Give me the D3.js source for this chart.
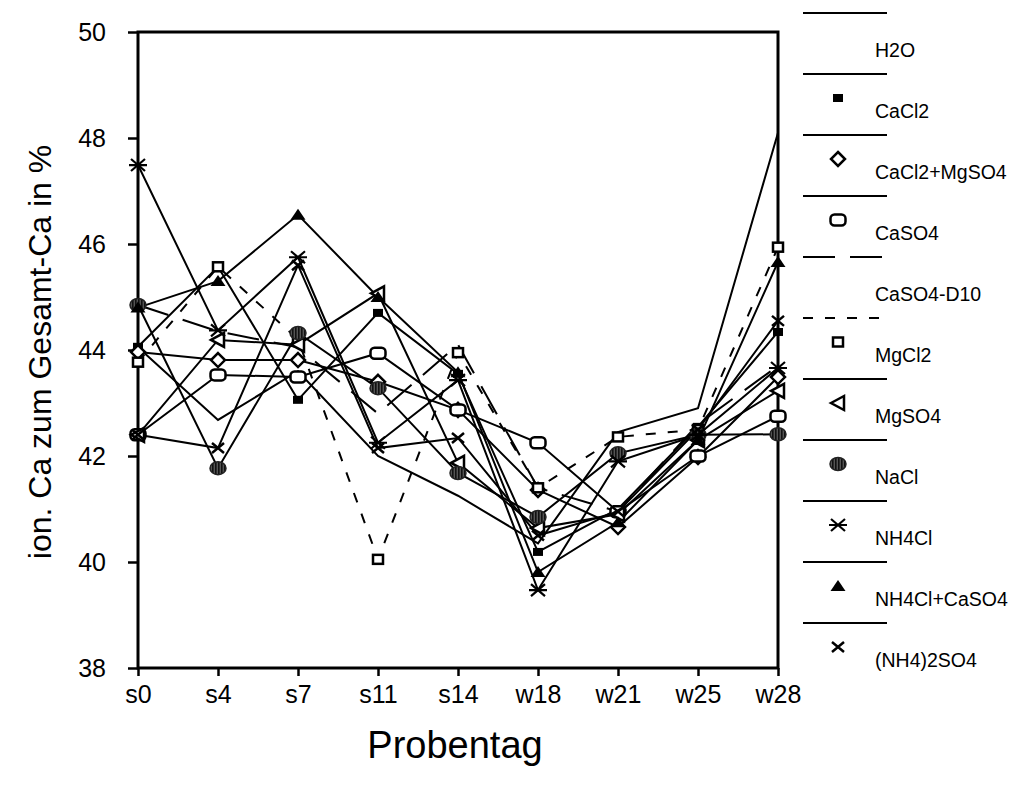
<!DOCTYPE html>
<html><head><meta charset="utf-8">
<script src="https://cdn.jsdelivr.net/npm/d3@7"></script>
<style>body{margin:0;background:#fff}svg{display:block}text{font-family:"Liberation Sans",Arial,sans-serif;fill:#000}</style>
</head><body><svg id="c" width="1011" height="789"></svg>
<script>
const categories = ["s0","s4","s7","s11","s14","w18","w21","w25","w28"];
const yTicks = [38,40,42,44,46,48,50];
const seriesNames = ["H2O","CaCl2","CaCl2+MgSO4","CaSO4","CaSO4-D10","MgCl2","MgSO4","NaCl","NH4Cl","NH4Cl+CaSO4","(NH4)2SO4"];
const H2O         = [44.05, 42.68, 43.60, 42.00, 41.25, 40.35, 42.45, 42.90, 48.10];
const CaCl2       = [44.06, 45.57, 43.06, 44.70, 43.55, 40.19, 41.00, 42.55, 44.34];
const CaCl2_MgSO4 = [43.96, 43.81, 43.81, 43.40, 42.87, 41.36, 40.66, 41.98, 43.49];
const CaSO4       = [42.40, 43.53, 43.49, 43.94, 42.87, 42.25, 40.95, 42.00, 42.75];
const CaSO4_D10   = [44.85, 44.35, 44.05, 42.80, 44.10, 41.40, 40.95, 42.60, 43.70];
const MgCl2       = [43.77, 45.57, 44.20, 40.05, 43.95, 41.40, 42.36, 42.50, 45.94];
const MgSO4       = [42.40, 44.19, 44.10, 45.07, 41.87, 40.64, 40.90, 42.30, 43.23];
const NaCl        = [44.85, 41.77, 44.32, 43.28, 41.68, 40.85, 42.05, 42.40, 42.41];
const NH4Cl       = [47.49, 44.37, 45.75, 42.25, 43.43, 39.47, 41.90, 42.40, 43.66];
const NH4Cl_CaSO4 = [44.80, 45.30, 46.55, 45.00, 43.58, 39.81, 40.75, 42.30, 45.66];
const NH4_2SO4    = [42.40, 42.15, 45.60, 42.15, 42.34, 40.50, 40.95, 42.50, 44.55];

const seriesValues = [H2O, CaCl2, CaCl2_MgSO4, CaSO4, CaSO4_D10, MgCl2, MgSO4, NaCl, NH4Cl, NH4Cl_CaSO4, NH4_2SO4];
const styles = [
  {dash:null, m:null},{dash:null, m:"sq"},{dash:null, m:"diamond"},{dash:null, m:"rrect"},
  {dash:"32,15", m:null},{dash:"10,12", m:"osq"},{dash:null, m:"ltri"},{dash:null, m:"nacl"},
  {dash:null, m:"ast"},{dash:null, m:"ftri"},{dash:null, m:"x"}
];

const svg = d3.select("#c");
const defs = svg.append("defs");
const pat = defs.append("pattern").attr("id","hatch").attr("patternUnits","userSpaceOnUse").attr("width",3).attr("height",4);
pat.append("rect").attr("width",3).attr("height",4).attr("fill","#555");
pat.append("rect").attr("width",1.6).attr("height",4).attr("fill","#111");

const x = d3.scalePoint().domain(categories).range([138,778]).padding(0);
const y = d3.scaleLinear().domain([38,50]).range([668,32]);

svg.append("rect").attr("x",138).attr("y",32).attr("width",640).attr("height",636)
  .attr("fill","none").attr("stroke","#000").attr("stroke-width",3);

const ya = svg.append("g").attr("transform","translate(138,0)")
  .call(d3.axisLeft(y).tickValues(yTicks).tickSize(10).tickPadding(22).tickFormat(d3.format("d")));
ya.select(".domain").remove();
ya.selectAll("line").attr("stroke","#000").attr("stroke-width",2.5);
ya.selectAll("text").style("font-size","25px").attr("font-family","Liberation Sans, Arial, sans-serif");

const xa = svg.append("g").attr("transform","translate(0,668)")
  .call(d3.axisBottom(x).tickSize(8).tickPadding(9));
xa.select(".domain").remove();
xa.selectAll("line").attr("stroke","#000").attr("stroke-width",2.5);
xa.selectAll("text").style("font-size","25px").attr("font-family","Liberation Sans, Arial, sans-serif");

svg.append("text").attr("transform","translate(40,352) rotate(-90)").attr("text-anchor","middle")
  .attr("dominant-baseline","central").style("font-size","32px").text("ion. Ca zum Gesamt-Ca in %");
svg.append("text").attr("x",455).attr("y",745).attr("text-anchor","middle")
  .attr("dominant-baseline","central").style("font-size","38px").text("Probentag");

function drawMarker(g, type, cx, cy){
  const t = g.append("g").attr("transform",`translate(${cx},${cy})`);
  switch(type){
    case "sq": t.append("rect").attr("x",-5).attr("y",-4).attr("width",10).attr("height",8).attr("fill","#000"); break;
    case "diamond": t.append("path").attr("d","M0,-7L7,0L0,7L-7,0Z").attr("fill","#fff").attr("stroke","#000").attr("stroke-width",2.5); break;
    case "rrect": t.append("rect").attr("x",-7.5).attr("y",-5.5).attr("width",15).attr("height",11).attr("rx",4).attr("fill","#fff").attr("stroke","#000").attr("stroke-width",2.5); break;
    case "osq": t.append("rect").attr("x",-5).attr("y",-4.5).attr("width",10).attr("height",9).attr("fill","#fff").attr("stroke","#000").attr("stroke-width",2.5); break;
    case "ltri": t.append("path").attr("d","M-7,0L6,-7L6,7Z").attr("fill","#fff").attr("stroke","#000").attr("stroke-width",2.5); break;
    case "nacl": t.append("ellipse").attr("rx",8).attr("ry",6.5).attr("fill","url(#hatch)").attr("stroke","#222").attr("stroke-width",1.5); break;
    case "ast": t.append("path").attr("d","M-7,-6L7,6M-7,6L7,-6M-9,0L9,0").attr("stroke","#000").attr("stroke-width",2.2); break;
    case "ftri": t.append("path").attr("d","M0,-6L7.5,5L-7.5,5Z").attr("fill","#000"); break;
    case "x": t.append("path").attr("d","M-6,-5L6,5M-6,5L6,-5").attr("stroke","#000").attr("stroke-width",2.5); break;
  }
}

const line = d3.line().x((d,i)=>x(categories[i])).y(d=>y(d));
const plot = svg.append("g");
seriesValues.forEach((vals,si)=>{
  plot.append("path").attr("d",line(vals)).attr("fill","none").attr("stroke","#000")
    .attr("stroke-width",2).attr("stroke-linejoin","miter")
    .attr("stroke-dasharray",styles[si].dash);
});
seriesValues.forEach((vals,si)=>{
  if(!styles[si].m) return;
  vals.forEach((v,i)=>drawMarker(plot, styles[si].m, x(categories[i]), y(v)));
});

const leg = svg.append("g");
seriesNames.forEach((n,i)=>{
  const ly = 13 + i*61;
  leg.append("line").attr("x1",803).attr("x2",887).attr("y1",ly).attr("y2",ly)
    .attr("stroke","#000").attr("stroke-width",2).attr("stroke-dasharray",styles[i].dash);
  if(styles[i].m) drawMarker(leg, styles[i].m, 838, ly+24);
  leg.append("text").attr("x",875).attr("y",ly+37).attr("dominant-baseline","central")
    .style("font-size","19.5px").text(n);
});
</script></body></html>
